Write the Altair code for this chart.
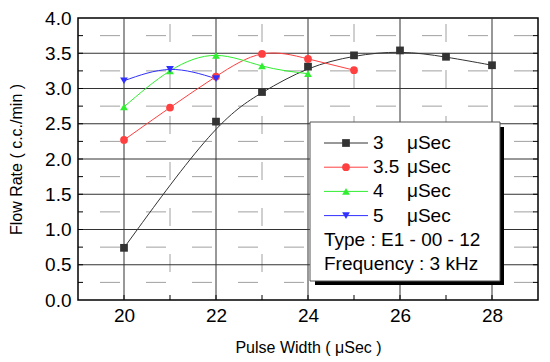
import altair as alt
import pandas as pd

# ---- data ----
pulse_3 = [20, 22, 23, 24, 25, 26, 27, 28]
flow_3 = [0.74, 2.53, 2.95, 3.31, 3.47, 3.54, 3.45, 3.33]
pulse_35 = [20, 21, 22, 23, 24, 25]
flow_35 = [2.27, 2.73, 3.17, 3.49, 3.42, 3.26]
pulse_4 = [20, 21, 22, 23, 24]
flow_4 = [2.74, 3.25, 3.47, 3.32, 3.21]
pulse_5 = [20, 21, 22]
flow_5 = [3.11, 3.27, 3.14]

series_num = ["3", "3.5", "4", "5"]
series_unit = "\u03bcSec"
series_colors = ["#000000", "#ff2020", "#20ee20", "#2020ff"]
line_colors = ["#333333", "#ff4040", "#30ee30", "#3030ff"]
series_shapes = ["square", "circle", "triangle-up", "triangle-down"]
extra_lines = ["Type : E1 - 00 - 12", "Frequency : 3 kHz"]

x_major = [20, 22, 24, 26, 28]
x_minor = [21, 23, 25, 27]
y_major = [0.5, 1.0, 1.5, 2.0, 2.5, 3.0, 3.5]
y_minor = [0.25, 0.75, 1.25, 1.75, 2.25, 2.75, 3.25, 3.75]
y_labels = [0.0, 0.5, 1.0, 1.5, 2.0, 2.5, 3.0, 3.5, 4.0]
x_ticks_all = list(range(20, 29))

W, H = 460, 282
TOP = 10
FONT = "Liberation Sans"

rows = []
for name, xs_, ys_ in zip(series_num, [pulse_3, pulse_35, pulse_4, pulse_5],
                          [flow_3, flow_35, flow_4, flow_5]):
    for a, b in zip(xs_, ys_):
        rows.append({"s": name, "x": a, "y": b})
df = pd.DataFrame(rows)

xs = alt.Scale(domain=[19, 29], nice=False, zero=False)
ys = alt.Scale(domain=[0, 4], nice=False)

x_axis = alt.Axis(values=x_major, format="d", grid=False, ticks=False, domain=False,
                  labelOverlap=False,
                  labelFontSize=19, labelFont=FONT, labelColor="black", labelPadding=6,
                  title="Pulse Width ( \u03bcSec )", titleFont=FONT, titleFontSize=16,
                  titleFontWeight="normal", titleColor="black", titleY=47,
                  titleBaseline="middle")
y_axis = alt.Axis(values=y_labels, format=".1f", grid=False, ticks=False, domain=False,
                  labelOverlap=False,
                  labelFontSize=19, labelFont=FONT, labelColor="black", labelPadding=7,
                  title="Flow Rate ( c.c./min )", titleFont=FONT, titleFontSize=16,
                  titleFontWeight="normal", titleColor="black", titleX=-62, titleY=H / 2,
                  titleAngle=-90, titleAlign="center", titleBaseline="middle")

col_scale = alt.Scale(domain=series_num, range=series_colors)
line_scale = alt.Scale(domain=series_num, range=line_colors)
shape_scale = alt.Scale(domain=series_num, range=series_shapes)

one = pd.DataFrame({"a": [0]})


def X(f="x:Q"):
    return alt.X(f, scale=xs, axis=x_axis)


def Y(f="y:Q"):
    return alt.Y(f, scale=ys, axis=y_axis)


# grid
gx_major = alt.Chart(pd.DataFrame({"x": x_major})).mark_rule(color="#333333", strokeWidth=1).encode(x=X())
gy_major = alt.Chart(pd.DataFrame({"y": y_major})).mark_rule(color="#333333", strokeWidth=1).encode(y=Y())
gx_minor = alt.Chart(pd.DataFrame({"x": x_minor})).mark_rule(
    color="#a0a0a0", strokeWidth=1, strokeDash=[18, 28], strokeDashOffset=-6).encode(x=X())
gy_minor = alt.Chart(pd.DataFrame({"y": y_minor})).mark_rule(
    color="#a0a0a0", strokeWidth=1, strokeDash=[20, 26], strokeDashOffset=-4).encode(y=Y())

# inward ticks
tick_b = alt.Chart(pd.DataFrame({"x": x_ticks_all})).mark_rule(color="black", strokeWidth=1).encode(
    x=X(), y=alt.value(H), y2=alt.value(H - 5))
yt = pd.DataFrame({"y": sorted(y_major + y_minor)})
tick_l = alt.Chart(yt).mark_rule(color="black", strokeWidth=1).encode(
    y=Y(), x=alt.value(0), x2=alt.value(5))
tick_r = alt.Chart(yt).mark_rule(color="black", strokeWidth=1).encode(
    y=Y(), x=alt.value(W - 5), x2=alt.value(W))

base = alt.Chart(df)
line_enc = dict(x=X(), y=Y(), color=alt.Color("s:N", scale=line_scale, legend=None), detail="s:N")
lines_black = base.transform_filter(alt.datum.s == series_num[0]).mark_line(
    interpolate="basis", strokeWidth=1).encode(**line_enc)
lines_rest = base.transform_filter(alt.datum.s != series_num[0]).mark_line(
    interpolate="natural", strokeWidth=1).encode(**line_enc)
points = base.mark_point(filled=True, size=60, opacity=1).encode(
    x=X(), y=Y(),
    color=alt.Color("s:N", scale=col_scale, legend=None),
    shape=alt.Shape("s:N", scale=shape_scale, legend=None),
)

# custom legend (pixel positions relative to the plot area)
off = 14 - (8 + TOP)
LX0, LX1, LY0, LY1 = 232, 422, 108 + off, 267 + off
shadow = alt.Chart(one).mark_rect(color="black").encode(
    x=alt.value(LX0 + 5), x2=alt.value(LX1 + 4), y=alt.value(LY0 + 5), y2=alt.value(LY1 + 4))
box = alt.Chart(one).mark_rect(fill="white", stroke="#555555", strokeWidth=1).encode(
    x=alt.value(LX0), x2=alt.value(LX1), y=alt.value(LY0), y2=alt.value(LY1))

row0, dy = 129 + off, 24.2
leg = pd.DataFrame({"s": series_num, "ly": [row0 + i * dy for i in range(len(series_num))]})
leg_line = alt.Chart(leg).mark_rule(strokeWidth=1).encode(
    x=alt.value(246), x2=alt.value(290), y=alt.Y("ly:Q", scale=None),
    color=alt.Color("s:N", scale=line_scale, legend=None))
leg_pt = alt.Chart(leg).mark_point(filled=True, size=60, opacity=1).encode(
    x=alt.value(268), y=alt.Y("ly:Q", scale=None),
    color=alt.Color("s:N", scale=col_scale, legend=None),
    shape=alt.Shape("s:N", scale=shape_scale, legend=None))
leg_num = alt.Chart(leg).mark_text(align="left", baseline="middle", font=FONT, fontSize=19,
                                   color="black").encode(
    x=alt.value(295), y=alt.Y("ly:Q", scale=None), text="s:N")
leg_unit = alt.Chart(leg).mark_text(align="left", baseline="middle", font=FONT, fontSize=19,
                                    color="black", text=series_unit).encode(
    x=alt.value(329), y=alt.Y("ly:Q", scale=None))
ext = pd.DataFrame({"t": extra_lines,
                    "ly": [row0 + (len(series_num) + i) * dy for i in range(len(extra_lines))]})
leg_ext = alt.Chart(ext).mark_text(align="left", baseline="middle", font=FONT, fontSize=19,
                                   color="black").encode(
    x=alt.value(246), y=alt.Y("ly:Q", scale=None), text="t:N")

chart = alt.layer(
    gx_minor, gy_minor, gx_major, gy_major, tick_b, tick_l, tick_r,
    lines_black, lines_rest, points, shadow, box, leg_line, leg_pt, leg_num, leg_unit, leg_ext
).properties(
    width=W, height=H,
    background="white",
    autosize=alt.AutoSizeParams(type="none"),
    padding={"left": 70, "top": TOP, "right": 4, "bottom": 60},
).configure_view(stroke="black", strokeWidth=1.5)

chart.save("out.html", embed_options={"renderer": "svg", "actions": False})
